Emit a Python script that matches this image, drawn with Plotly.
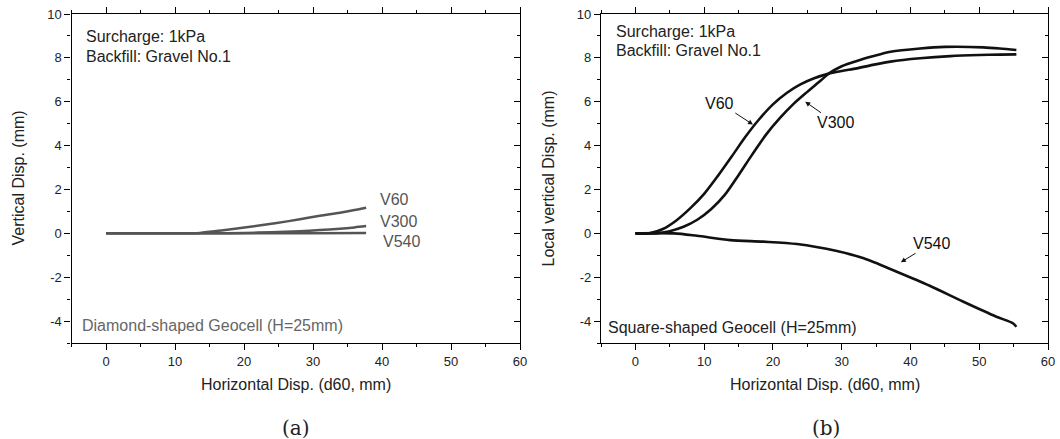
import plotly.graph_objects as go

# ---- Panel (a): diamond-shaped geocell ----
a_v60_x = [0, 5, 10, 13.6, 17, 20.9, 24.5, 28.1, 31, 33.9, 36, 37.7]
a_v60_y = [0, 0, 0, 0.02, 0.14, 0.3, 0.46, 0.64, 0.8, 0.94, 1.06, 1.17]
a_v300_x = [0, 5, 10, 15, 20, 24, 28.1, 31, 33.9, 36, 37.7]
a_v300_y = [0, 0, 0, 0, 0.02, 0.05, 0.1, 0.15, 0.21, 0.27, 0.33]
a_v540_x = [0, 10, 20, 30, 37.7]
a_v540_y = [0, 0, 0, 0, 0.01]

# ---- Panel (b): square-shaped geocell ----
b_v60_x = [0, 2, 4, 6, 8, 10, 12, 14, 16, 18, 20, 22, 24, 26, 28, 30,
           32.2, 34.5, 37.1, 41.4, 45.8, 50, 53, 55.4]
b_v60_y = [0, 0, 0.2, 0.6, 1.15, 1.8, 2.62, 3.5, 4.4, 5.2, 5.88, 6.4, 6.79, 7.07, 7.27, 7.4,
           7.52, 7.68, 7.83, 7.98, 8.08, 8.13, 8.15, 8.16]
b_v300_x = [0, 3, 5, 7, 9, 11, 13, 15, 17, 19, 21, 23, 25, 27, 28.1, 30,
            32.2, 34.5, 37.1, 41.4, 45, 50.6, 53, 55.4]
b_v300_y = [0, 0, 0.1, 0.3, 0.62, 1.1, 1.75, 2.65, 3.6, 4.5, 5.25, 5.9, 6.45, 6.98, 7.28, 7.62,
            7.86, 8.07, 8.28, 8.43, 8.5, 8.48, 8.43, 8.36]
b_v540_x = [0, 5.6, 8.95, 13.8, 18.6, 23.5, 29.3, 33.2, 38.0, 42.8, 47.7, 52.5, 54.9, 55.4]
b_v540_y = [0, 0, -0.11, -0.31, -0.38, -0.49, -0.81, -1.14, -1.75, -2.39, -3.12, -3.8, -4.1, -4.26]

x_range = [-5, 60]
y_range = [-5, 10]
x_tickvals = [0, 10, 20, 30, 40, 50, 60]
x_ticktext = ["0", "10", "20", "30", "40", "50", "60"]
y_tickvals = [-4, -2, 0, 2, 4, 6, 8, 10]
y_ticktext = ["-4", "-2", "0", "2", "4", "6", "8", "10"]

W, H = 1060, 439


def px(X):
    return X / W


def py(Y):
    return 1 - Y / H


FONT = "Liberation Sans, Arial, sans-serif"
SERIF = "DejaVu Serif, Liberation Serif, serif"

dom_a = [px(71.5), px(520)]
dom_b = [px(601), px(1048)]
dom_y = [py(343), py(14)]

fig = go.Figure()

gray_line = dict(color="#555555", width=2.5)
black_line = dict(color="#111111", width=2.6)

for xs, ys in [(a_v60_x, a_v60_y), (a_v300_x, a_v300_y), (a_v540_x, a_v540_y)]:
    fig.add_trace(go.Scatter(x=xs, y=ys, mode="lines", line=dict(shape="spline", smoothing=0.8, **gray_line),
                             xaxis="x", yaxis="y", showlegend=False, hoverinfo="skip"))
for xs, ys in [(b_v60_x, b_v60_y), (b_v300_x, b_v300_y), (b_v540_x, b_v540_y)]:
    fig.add_trace(go.Scatter(x=xs, y=ys, mode="lines", line=dict(shape="spline", smoothing=0.8, **black_line),
                             xaxis="x2", yaxis="y2", showlegend=False, hoverinfo="skip"))

# empty traces so the frame axes (top / right) get drawn
for xa, ya in [("x3", "y"), ("x", "y3"), ("x4", "y2"), ("x2", "y4")]:
    fig.add_trace(go.Scatter(x=[None], y=[None], xaxis=xa, yaxis=ya, showlegend=False, hoverinfo="skip"))

tick_font = dict(family=FONT, size=13, color="#222222")


def x_axis(domain, anchor, side="bottom", overlay=None, labels=True, ticks="outside"):
    d = dict(domain=domain, anchor=anchor, side=side, range=x_range,
             tickmode="array", tickvals=x_tickvals, ticktext=x_ticktext,
             showline=True, linecolor="black", linewidth=1.2, ticks=ticks, ticklen=6,
             tickcolor="black", tickwidth=1.2, showgrid=False, zeroline=False,
             showticklabels=labels, tickfont=tick_font, fixedrange=True, automargin=False,
             minor=dict(dtick=5, tick0=0, ticks=ticks, ticklen=3, tickcolor="black",
                        tickwidth=1.2, showgrid=False))
    if overlay:
        d["overlaying"] = overlay
    return d


def y_axis(domain, anchor, side="left", overlay=None, labels=True, ticks="outside"):
    d = dict(domain=domain, anchor=anchor, side=side, range=y_range,
             tickmode="array", tickvals=y_tickvals, ticktext=y_ticktext,
             showline=True, linecolor="black", linewidth=1.2, ticks=ticks, ticklen=6,
             tickcolor="black", tickwidth=1.2, showgrid=False, zeroline=False,
             showticklabels=labels, tickfont=tick_font, fixedrange=True, automargin=False,
             minor=dict(dtick=1, tick0=0, ticks=ticks, ticklen=3, tickcolor="black",
                        tickwidth=1.2, showgrid=False))
    if overlay:
        d["overlaying"] = overlay
    return d


fig.update_layout(
    template="none",
    width=W, height=H,
    margin=dict(l=0, r=0, t=0, b=0, pad=0),
    paper_bgcolor="white", plot_bgcolor="white",
    font=dict(family=FONT, color="#222222"),
    xaxis=x_axis(dom_a, "y"),
    yaxis=y_axis(dom_y, "x"),
    xaxis2=x_axis(dom_b, "y2"),
    yaxis2=y_axis(dom_y, "x2"),
    xaxis3=x_axis(dom_a, "y", side="top", overlay="x", labels=False),
    yaxis3=y_axis(dom_y, "x", side="right", overlay="y", labels=False, ticks="inside"),
    xaxis4=x_axis(dom_b, "y2", side="top", overlay="x2", labels=False),
    yaxis4=y_axis(dom_y, "x2", side="right", overlay="y2", labels=False, ticks="inside"),
)

ann = []


def text(X, Y, s, size=16, color="#222222", xanchor="left", family=FONT, angle=0):
    ann.append(dict(x=px(X), y=py(Y), xref="paper", yref="paper", text=s, showarrow=False,
                    xanchor=xanchor, yanchor="middle", textangle=angle,
                    font=dict(family=family, size=size, color=color)))


# panel (a) texts
text(84, 36.5, "Surcharge: 1kPa")
text(84, 56.5, "Backfill: Gravel No.1")
text(80, 325.5, "Diamond-shaped Geocell (H=25mm)", color="#666666")
text(296, 384, "Horizontal Disp. (d60, mm)", xanchor="center")
text(18, 178.5, "Vertical Disp. (mm)", xanchor="center", angle=-90)
text(296, 428, "(a)", size=20, xanchor="center", family=SERIF)

# panel (b) texts
text(614, 31, "Surcharge: 1kPa")
text(614, 50, "Backfill: Gravel No.1")
text(606, 327.5, "Square-shaped Geocell (H=25mm)")
text(825, 384, "Horizontal Disp. (d60, mm)", xanchor="center")
text(548, 178.5, "Local vertical Disp. (mm)", xanchor="center", angle=-90)
text(826, 428, "(b)", size=20, xanchor="center", family=SERIF)

# curve labels, panel (a)
a_labels = [("V60", 39.4, 1.52), ("V300", 39.4, 0.56), ("V540", 39.9, -0.37)]
for s, lx, ly in a_labels:
    ann.append(dict(x=lx, y=ly, xref="x", yref="y", text=s, showarrow=False,
                    xanchor="left", yanchor="middle",
                    font=dict(family=FONT, size=16, color="#555555")))

# curve labels with arrows, panel (b)
b_labels = [("V60", 17.1, 4.96, -33, -21.5), ("V300", 24.7, 6.0, 30, 21),
            ("V540", 38.6, -1.32, 31, -19)]
for s, hx, hy, dx, dy in b_labels:
    ann.append(dict(x=hx, y=hy, xref="x2", yref="y2", text=s, showarrow=True,
                    ax=dx, ay=dy, axref="pixel", ayref="pixel",
                    arrowhead=2, arrowsize=1, arrowwidth=1, arrowcolor="#111111",
                    font=dict(family=FONT, size=16, color="#111111")))

fig.update_layout(annotations=ann)

fig.write_html("out.html")
